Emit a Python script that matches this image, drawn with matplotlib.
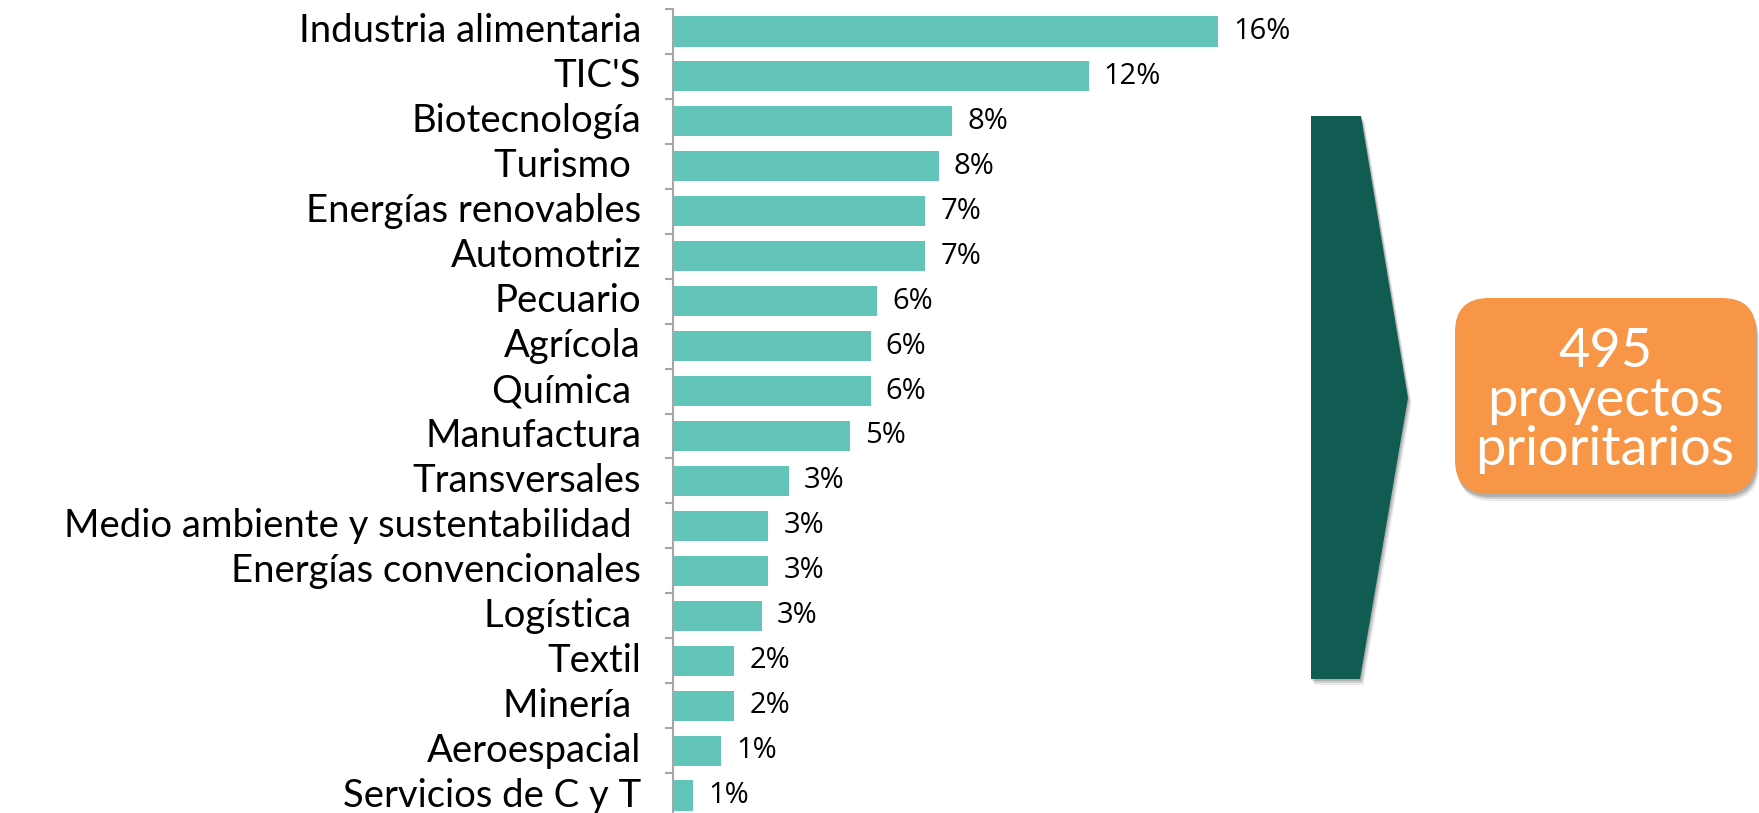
import matplotlib
matplotlib.use("Agg")
import matplotlib.pyplot as plt
import numpy as np
from matplotlib.patches import Polygon, FancyBboxPatch

# data (percent of 495 projects)
sectores = ["Industria alimentaria", "TIC'S", "Biotecnología", "Turismo ",
            "Energías renovables", "Automotriz", "Pecuario", "Agrícola",
            "Química ", "Manufactura", "Transversales",
            "Medio ambiente y sustentabilidad ", "Energías convencionales",
            "Logística ", "Textil", "Minería ", "Aeroespacial",
            "Servicios de C y T"]
porcentajes = [16.0, 12.2, 8.2, 7.8, 7.4, 7.4, 6.0, 5.8, 5.8, 5.2,
               3.4, 2.8, 2.8, 2.6, 1.8, 1.8, 1.4, 0.6]
total_proyectos = 495

W, H = 1759, 813
fig = plt.figure(figsize=(W / 100, H / 100), dpi=100)

# bar chart
ax = fig.add_axes([673 / W, -5 / H, (1250 - 673) / W, 809 / H])
y = np.arange(len(sectores))
ax.barh(y, porcentajes, height=0.67, color="#63C5B9")
ax.set_xlim(0, 577 / 34.06)
ax.set_ylim(len(sectores) - 0.5, -0.5)

for yi, v in zip(y, porcentajes):
    ax.annotate(f"{round(v)}%", (v, yi), xytext=(11, 0), textcoords="offset points",
                ha="left", va="center", fontsize=21, family="Open Sans")

for s in ["top", "right", "bottom"]:
    ax.spines[s].set_visible(False)
ax.spines["left"].set_color("#a6a6a6")
ax.spines["left"].set_linewidth(1.5)
ax.set_xticks([])
ax.set_yticks(y)
ax.set_yticklabels(sectores, fontsize=27.5, family="Lato", va="center")
ax.tick_params(axis="y", which="major", length=0, pad=23)
ax.set_yticks(np.arange(len(sectores) + 1) - 0.5, minor=True)
ax.tick_params(axis="y", which="minor", length=6, width=1.5, color="#a6a6a6")

# overlay for the arrow and the box (pixel coordinates)
ov = fig.add_axes([0, 0, 1, 1])
ov.set_xlim(0, W)
ov.set_ylim(H, 0)
ov.axis("off")

chevron = [(1311, 116), (1361, 116), (1408, 398), (1360, 679), (1311, 679)]
for k, a in [(6, 0.08), (4, 0.12), (2, 0.15)]:
    ov.add_patch(Polygon([(px + k * 0.6, py + k) for px, py in chevron],
                         closed=True, color="#000000", alpha=a, lw=0))
ov.add_patch(Polygon(chevron, closed=True, color="#105C53", lw=0))

for k, a in [(7, 0.08), (5, 0.12), (3, 0.15)]:
    ov.add_patch(FancyBboxPatch((1455 + k * 0.4, 298 + k), 301, 196,
                                boxstyle="round,pad=0,rounding_size=34",
                                color="#000000", alpha=a, lw=0))
ov.add_patch(FancyBboxPatch((1455, 298), 301, 196,
                            boxstyle="round,pad=0,rounding_size=34",
                            color="#F79646", lw=0))
ov.text(1605, 400, f"{total_proyectos}\nproyectos\nprioritarios", ha="center",
        va="center", color="white", fontsize=39, family="Lato",
        linespacing=1.0)

fig.savefig("out.png", dpi=100)
